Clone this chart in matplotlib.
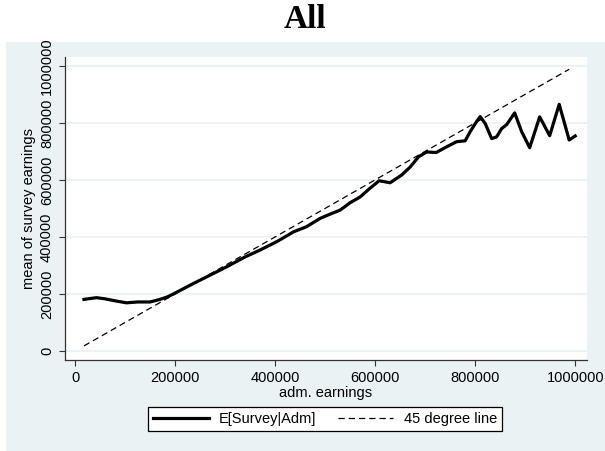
import matplotlib
matplotlib.use("Agg")
import matplotlib.pyplot as plt
from matplotlib.patches import Rectangle

# adm. earnings (x) and mean of survey earnings (y)
adm_earnings = [18000, 30000, 43000, 60000, 80000, 103000, 125000, 150000, 170000, 185000,
                200000, 237000, 270000, 303000, 340000, 370000, 405000, 437000, 463000, 490000,
                510000, 530000, 550000, 570000, 588000, 608000, 630000, 653000, 670000, 687000,
                703000, 722000, 743000, 763000, 780000, 790000, 803000, 810000, 820000, 833000,
                843000, 853000, 863000, 879000, 893000, 909000, 929000, 949000, 968000, 988000,
                1000000]
survey_mean = [181000, 184000, 187000, 183000, 176000, 169000, 172000, 172000, 181000, 190000,
               203000, 237000, 266000, 295000, 330000, 354000, 385000, 418000, 436000, 465000,
               480000, 494000, 520000, 540000, 568000, 597000, 590000, 617000, 645000, 681000,
               698000, 696000, 716000, 734000, 737000, 769000, 805000, 822000, 798000, 745000,
               751000, 780000, 794000, 835000, 769000, 713000, 821000, 755000, 865000, 740000,
               754000]
line45 = [18000, 988000]

ticks = [0, 200000, 400000, 600000, 800000, 1000000]
tick_labels = ["0", "200000", "400000", "600000", "800000", "1000000"]

bg = "#EAF2F3"
sans = "Liberation Sans"
fs = 10.5

fig = plt.figure(figsize=(6.05, 4.51), dpi=100)
fig.patch.set_facecolor("white")
# bluish graph region behind the plot
panel = Rectangle((6 / 605, 0), 1, 1 - 41.7 / 451, transform=fig.transFigure,
                  facecolor=bg, edgecolor="none", zorder=-5)
fig.add_artist(panel)

ax = fig.add_axes([65 / 605, 1 - 360 / 451, (586.7 - 65) / 605, (360 - 56.7) / 451])
ax.set_facecolor("white")

ax.plot(adm_earnings, survey_mean, color="black", lw=2.3, solid_joinstyle="round",
        label="E[Survey|Adm]", zorder=3)
ax.plot(line45, line45, color="black", lw=0.9, linestyle=(0, (5, 3.2)),
        label="45 degree line", zorder=3)

ax.set_xlim(-20000, 1023000)
ax.set_ylim(-31500, 1032000)

ax.set_xticks(ticks)
ax.set_xticklabels(tick_labels, fontsize=fs, family=sans)
ax.set_yticks(ticks)
ax.set_yticklabels(tick_labels, fontsize=fs, family=sans, rotation=90, va="center")
ax.tick_params(length=4, width=0.8, color="#333333", pad=4)

ax.grid(True, axis="y", color=bg, lw=1.3, zorder=1)
ax.set_axisbelow(True)

for s in ["top", "right"]:
    ax.spines[s].set_visible(False)
for s in ["left", "bottom"]:
    ax.spines[s].set_color("#333333")
    ax.spines[s].set_linewidth(0.9)

ax.set_xlabel("adm. earnings", fontsize=fs, family=sans, labelpad=1)
ax.set_ylabel("mean of survey earnings", fontsize=fs, family=sans, labelpad=3)

fig.text(305 / 605, 1 - 28.3 / 451, "All", ha="center", va="baseline",
         fontsize=24, family="Liberation Serif", weight="bold")

leg = fig.legend(loc="center", bbox_to_anchor=(325 / 605, 1 - 419 / 451), ncol=2,
                 prop={"family": sans, "size": fs}, handlelength=3.8, handletextpad=0.7,
                 columnspacing=1.5, borderpad=0.35, fancybox=False, framealpha=1,
                 edgecolor="black")
leg.get_frame().set_linewidth(0.9)

fig.savefig("out.png", dpi=100)
